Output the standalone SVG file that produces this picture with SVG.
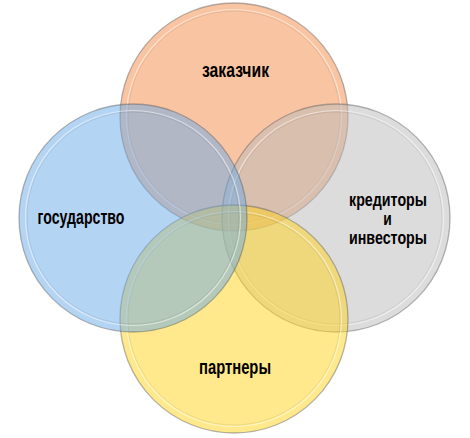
<svg xmlns="http://www.w3.org/2000/svg" width="470" height="438" viewBox="0 0 470 438">
<style>
.c{fill-opacity:0.5;stroke:#5a5a5a;stroke-opacity:0.45;stroke-width:1.3}
.rim{fill:none;stroke:#ffffff;stroke-opacity:0.5;stroke-width:1.2}
.rim2{fill:none;stroke:#000000;stroke-opacity:0.07;stroke-width:1}
.t{font-family:"Liberation Sans Narrow","Liberation Sans",Arial,sans-serif;font-weight:bold;font-size:20px;fill:#000;text-anchor:middle}
.s{font-size:18px}
</style>
<rect width="470" height="438" fill="#ffffff"/>
<g id="node-zakazchik">
<circle class="c" cx="234" cy="117" r="114" fill="#F38945"/>
<circle class="rim" cx="234" cy="117" r="107.5"/>
<circle class="rim2" cx="234" cy="117" r="106"/>
<text class="t" x="235.5" y="77" textLength="67" lengthAdjust="spacingAndGlyphs">заказчик</text>
</g>
<g id="node-kreditory">
<circle class="c" cx="336" cy="218" r="114" fill="#B9B9B9"/>
<circle class="rim" cx="336" cy="218" r="107.5"/>
<circle class="rim2" cx="336" cy="218" r="106"/>
<text class="t s" x="388" y="205.5" textLength="78" lengthAdjust="spacingAndGlyphs">кредиторы</text>
<text class="t s" x="387.5" y="224.5" textLength="8.5" lengthAdjust="spacingAndGlyphs">и</text>
<text class="t s" x="388" y="244" textLength="78" lengthAdjust="spacingAndGlyphs">инвесторы</text>
</g>
<g id="node-partnery">
<circle class="c" cx="234" cy="319" r="114" fill="#FFD319"/>
<circle class="rim" cx="234" cy="319" r="107.5"/>
<circle class="rim2" cx="234" cy="319" r="106"/>
<text class="t" x="235" y="374" textLength="72" lengthAdjust="spacingAndGlyphs">партнеры</text>
</g>
<g id="node-gosudarstvo">
<circle class="c" cx="133" cy="218" r="114" fill="#69A9E7"/>
<circle class="rim" cx="133" cy="218" r="107.5"/>
<circle class="rim2" cx="133" cy="218" r="106"/>
<text class="t" x="81" y="224" textLength="87" lengthAdjust="spacingAndGlyphs">государство</text>
</g>
<g id="connectors"/>
</svg>
